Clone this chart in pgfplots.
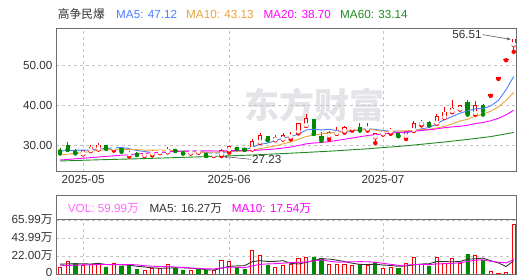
\documentclass[border=0pt]{standalone}
\usepackage{pgfplots}
\usepackage{pgfplotstable}
\pgfplotsset{compat=1.18}
\usetikzlibrary{arrows.meta}
\usepackage{fontspec}
\setmainfont{Liberation Sans}
\newfontfamily\cjk{Noto Sans CJK SC}
\definecolor{cup}{HTML}{FF0000}
\definecolor{cdn}{HTML}{008A00}
\definecolor{ma5}{HTML}{4A7DFF}
\definecolor{ma10}{HTML}{E8A33A}
\definecolor{ma20}{HTML}{FF00FF}
\definecolor{ma60}{HTML}{1E8C1E}
\definecolor{frame}{HTML}{6E6E6E}
\definecolor{gridc}{HTML}{C4C4C4}
\definecolor{txt}{HTML}{333333}
\definecolor{volc}{HTML}{FF66FF}
\definecolor{wm}{HTML}{E4E4E8}
% candles: index, open, high, low, close
\pgfplotstableread{
i o h l c
3 27.8 28.7 27.7 28.6
4 28.6 30.0 28.5 29.5
5 29.0 30.6 28.9 30.0
7 29.1 29.8 28.6 29.4
9 27.6 28.4 27.1 28.0
11 27.4 28.1 27.3 27.9
12 27.8 28.7 27.4 28.2
13 28.1 28.6 28.0 28.5
14 28.3 29.6 28.2 29.0
17 28.0 28.4 27.9 28.3
18 28.2 28.4 28.1 28.25
20 27.4 27.9 27.3 27.7
21 27.7 28.9 27.23 28.7
22 28.8 29.7 28.1 29.6
25 29.0 31.6 28.9 30.8
26 30.7 32.9 30.5 32.3
28 31.3 32.4 31.2 31.9
29 31.5 32.9 31.4 32.4
30 32.0 33.2 31.4 32.5
31 33.3 35.5 32.9 35.3
32 34.9 37.75 34.8 36.6
35 32.3 33.6 31.4 33.2
36 32.9 34.4 32.8 33.75
37 33.5 34.75 33.1 34.3
38 34.1 34.4 33.6 34.35
40 34.0 35.6 33.6 34.2
41 32.0 33.0 30.5 32.8
42 32.8 33.2 32.6 33.05
43 33.3 34.2 32.8 33.5
45 32.2 33.4 31.5 33.3
46 33.7 36.1 33.5 35.3
47 35.3 36.3 34.9 35.7
49 35.5 37.75 35.3 37.2
50 36.9 39.4 36.8 38.25
51 38.4 41.3 38.2 39.25
52 39.0 40.1 38.9 39.9
54 37.9 41.1 37.6 39.9
59 55.1 56.51 53.3 56.51
}\upt
\pgfplotstableread{
i o h l c
0 28.6 29.3 27.9 28.5
1 29.8 30.8 28.8 28.9
2 28.7 29.0 27.9 28.2
6 30.0 30.1 29.1 29.2
8 29.1 29.5 28.3 28.8
10 27.9 28.2 27.5 27.7
15 29.0 29.1 28.5 28.6
16 28.4 28.5 27.9 28.0
19 28.1 28.2 27.3 27.4
23 29.5 29.6 29.0 29.1
24 29.2 29.3 28.8 28.9
27 32.1 32.2 31.2 31.4
33 36.4 36.6 32.8 32.9
34 32.2 33.3 31.1 31.5
39 34.4 35.6 33.6 33.8
44 33.2 33.3 32.2 32.4
48 35.7 35.9 34.9 35.1
53 40.75 41.3 37.6 38.0
55 40.0 40.2 37.6 38.6
}\dnt
\pgfplotstableread{
i o h l c
56 42.46 42.46 42.46 42.46
57 46.70 46.70 46.70 46.70
58 51.37 51.37 51.37 51.37
}\flatt
\pgfplotsset{
  base/.style={scale only axis, width=460.5bp, xmin=-0.52, xmax=59.36,
    axis line style={frame, line width=1bp}, major tick length=0,
    grid style={gridc, dash pattern=on 3bp off 3bp, line width=0.8bp},
    xmajorgrids, ymajorgrids, xtick={3,22,42},
    tick label style={font=\fontsize{11.7bp}{14bp}\selectfont, text=txt}},
  ebar/.style={only marks, mark=none, forget plot,
    error bars/.cd, y dir=plus, y explicit, error mark=none,
    error bar style={line width=#1}},
}
\begin{document}
\begin{tikzpicture}[font=\fontsize{11.7bp}{14bp}\selectfont]
\path[use as bounding box] (0bp,0bp) rectangle (520bp,277bp);
% watermark
\node[text=wm, font=\cjk\bfseries\fontsize{35bp}{35bp}\selectfont, inner sep=0] at (314bp,172bp) {东方财富};
% top legend
\node[anchor=base west, inner sep=0, text=txt] at (57.7bp,258bp) {\cjk 高争民爆};
\node[anchor=base west, inner sep=0, text=ma5] at (116bp,258bp) {MA5: 47.12};
\node[anchor=base west, inner sep=0, text=ma10] at (186bp,258bp) {MA10: 43.13};
\node[anchor=base west, inner sep=0, text=ma20] at (263.3bp,258bp) {MA20: 38.70};
\node[anchor=base west, inner sep=0, text=ma60] at (340bp,258bp) {MA60: 33.14};

\begin{axis}[base, at={(56bp,105bp)}, anchor=south west, height=144bp,
  ymin=23.25, ymax=59.25, ytick={30,40,50}, yticklabels={30.00,40.00,50.00},
  xticklabels={2025-05,2025-06,2025-07}]
% wicks
\addplot[cup, ebar=0.9bp] table[x=i, y=l, y error expr=\thisrow{h}-\thisrow{l}] {\upt};
\addplot[cdn, ebar=0.9bp] table[x=i, y=l, y error expr=\thisrow{h}-\thisrow{l}] {\dnt};
% bodies
\addplot[cdn, ebar=4.2bp] table[x=i, y expr=\thisrow{c}-0.11, y error expr=\thisrow{o}-\thisrow{c}+0.22] {\dnt};
\addplot[cup, ebar=4.2bp] table[x=i, y expr=\thisrow{o}-0.11, y error expr=\thisrow{c}-\thisrow{o}+0.22] {\upt};
\addplot[white, ebar=2.4bp] table[x=i, y expr=\thisrow{o}+0.11, y error expr={max(\thisrow{c}-\thisrow{o}-0.22,0)}] {\upt};
\addplot[cup, ebar=5.6bp] table[x=i, y expr=\thisrow{o}-0.18, y error expr=\thisrow{c}-\thisrow{o}+0.36] {\flatt};
% MA5
\addplot[ma5, line width=0.9bp] coordinates {(0,28.5)(1,28.6)(2,28.7)(3,28.7)(4,28.74)(5,29.04)(6,29.10)(7,29.34)(8,29.38)(9,29.08)(10,28.62)(11,28.36)(12,28.12)(13,28.06)(14,28.26)(15,28.44)(16,28.46)(17,28.48)(18,28.43)(19,28.11)(20,27.93)(21,28.08)(22,28.34)(23,28.50)(24,28.80)(25,29.42)(26,30.14)(27,30.50)(28,31.06)(29,31.76)(30,32.10)(31,32.70)(32,33.74)(33,33.94)(34,33.76)(35,33.92)(36,33.61)(37,33.15)(38,33.44)(39,33.90)(40,34.10)(41,33.89)(42,33.62)(43,33.47)(44,33.19)(45,33.01)(46,33.51)(47,34.04)(48,34.36)(49,35.32)(50,36.31)(51,37.10)(52,37.94)(53,38.52)(54,39.06)(55,39.13)(56,39.77)(57,41.13)(58,43.81)(59,47.13)};
% MA10
\addplot[ma10, line width=0.9bp] coordinates {(0,27.5)(1,27.7)(2,27.9)(3,28.1)(4,28.4)(5,28.7)(6,28.8)(7,28.9)(8,28.9)(9,28.91)(10,28.83)(11,28.73)(12,28.73)(13,28.72)(14,28.67)(15,28.53)(16,28.41)(17,28.30)(18,28.25)(19,28.19)(20,28.19)(21,28.27)(22,28.41)(23,28.47)(24,28.46)(25,28.68)(26,29.11)(27,29.42)(28,29.78)(29,30.28)(30,30.76)(31,31.42)(32,32.12)(33,32.50)(34,32.76)(35,33.00)(36,33.15)(37,33.44)(38,33.68)(39,33.81)(40,33.98)(41,33.73)(42,33.38)(43,33.44)(44,33.53)(45,33.54)(46,33.69)(47,33.83)(48,33.92)(49,34.26)(50,34.66)(51,35.31)(52,35.99)(53,36.44)(54,37.19)(55,37.72)(56,38.44)(57,39.54)(58,41.16)(59,43.13)};
% MA20
\addplot[ma20, line width=0.9bp] coordinates {(0,26.25)(1,26.4)(2,26.55)(3,26.7)(4,26.85)(5,27.0)(6,27.15)(7,27.3)(8,27.45)(9,27.6)(10,27.75)(11,27.9)(12,28.05)(13,28.2)(14,28.3)(15,28.4)(16,28.45)(17,28.5)(18,28.52)(19,28.55)(20,28.51)(21,28.50)(22,28.57)(23,28.60)(24,28.57)(25,28.61)(26,28.76)(27,28.86)(28,29.02)(29,29.24)(30,29.48)(31,29.86)(32,30.28)(33,30.50)(34,30.62)(35,30.85)(36,31.14)(37,31.44)(38,31.74)(39,32.06)(40,32.38)(41,32.59)(42,32.76)(43,32.98)(44,33.15)(45,33.28)(46,33.43)(47,33.64)(48,33.80)(49,34.04)(50,34.33)(51,34.52)(52,34.68)(53,34.94)(54,35.36)(55,35.63)(56,36.06)(57,36.68)(58,37.54)(59,38.70)};
% MA60
\addplot[ma60, line width=0.9bp] coordinates {(0,26.0)(5,26.3)(10,26.55)(15,26.85)(20,27.15)(25,27.5)(30,27.95)(35,28.45)(40,29.05)(45,29.8)(50,30.75)(53,31.4)(56,32.1)(59,33.14)};
% annotations
\draw[-{Stealth[length=4bp,width=3bp]}, black!65, line width=0.6bp] (axis cs:54.95,57.6) -- (axis cs:58.6,56.4);
\node[anchor=east, inner sep=0, text=txt] at (axis cs:54.85,57.55) {56.51};
\draw[-{Stealth[length=4bp,width=3bp]}, black!65, line width=0.6bp] (axis cs:24.85,26.43) -- (axis cs:21.3,27.1);
\node[anchor=west, inner sep=0, text=txt] at (axis cs:24.95,26.5) {27.23};
\end{axis}

% volume legend box
\draw[frame, line width=1bp] (56bp,57bp) rectangle (516.5bp,81bp);
\node[anchor=base west, inner sep=0, text=volc] at (67.7bp,64bp) {VOL: 59.99{\cjk 万}};
\node[anchor=base west, inner sep=0, text=txt] at (149.3bp,64bp) {MA5: 16.27{\cjk 万}};
\node[anchor=base west, inner sep=0, text=ma20] at (231.7bp,64bp) {MA10: 17.54{\cjk 万}};

\begin{axis}[base, at={(56bp,3bp)}, anchor=south west, height=54bp,
  ymin=0, ymax=65.99, ytick={0,22,43.99,65.99},
  yticklabels={\raisebox{2.5bp}{0},22.00{\cjk 万},43.99{\cjk 万},65.99{\cjk 万}},
  xticklabels={}]
\addplot[ybar, bar width=0.42, bar shift=0pt, draw=cup, fill=white, line width=0.9bp] coordinates {
(0,8.6)(1,15.9)(3,11.0)(4,12.2)(5,12.6)(7,13.0)(11,4.5)(12,7.3)(13,7.3)(14,11.8)(17,4.5)(20,4.5)(21,16.7)(22,15.9)(25,29.0)(26,22.8)(28,8.2)(29,10.6)(30,12.2)(31,19.2)(32,20.4)(35,11.8)(36,11.8)(37,11.8)(38,11.0)(40,11.0)(42,6.9)(43,8.2)(45,13.0)(46,20.4)(47,12.2)(49,20.4)(50,13.0)(51,19.2)(52,13.5)(54,23.0)(56,3.0)(57,0.6)(58,2.0)(59,59.99)};
\addplot[ybar, bar width=0.42, bar shift=0pt, draw=cdn, fill=cdn, line width=0.9bp] coordinates {
(2,13.4)(6,8.6)(8,9.8)(9,10.6)(10,5.3)(15,6.9)(16,4.9)(18,5.3)(19,4.5)(23,7.7)(24,6.1)(27,11.0)(33,20.8)(34,19.6)(39,12.2)(41,13.8)(44,7.3)(48,9.8)(53,24.4)(55,17.0)};
% VOL MA5
\addplot[txt, line width=0.9bp] coordinates {(0,12.0)(1,12.3)(2,12.5)(3,12.4)(4,12.22)(5,13.02)(6,11.56)(7,11.48)(8,11.24)(9,10.92)(10,9.46)(11,8.64)(12,7.50)(13,7.00)(14,7.24)(15,7.56)(16,7.64)(17,7.08)(18,6.68)(19,5.22)(20,4.74)(21,7.10)(22,9.38)(23,9.86)(24,10.18)(25,15.08)(26,16.30)(27,15.32)(28,15.42)(29,16.32)(30,12.96)(31,12.24)(32,14.12)(33,16.64)(34,18.44)(35,18.36)(36,16.88)(37,15.16)(38,13.20)(39,11.72)(40,11.56)(41,11.96)(42,10.98)(43,10.42)(44,9.44)(45,9.84)(46,11.16)(47,12.22)(48,12.54)(49,15.16)(50,15.16)(51,14.92)(52,15.18)(53,18.10)(54,18.62)(55,19.42)(56,16.18)(57,13.60)(58,9.12)(59,16.27)};
% VOL MA10
\addplot[ma20, line width=0.9bp] coordinates {(0,10.0)(1,10.4)(2,10.8)(3,11.1)(4,11.3)(5,11.5)(6,11.6)(7,11.6)(8,11.6)(9,11.57)(10,11.24)(11,10.10)(12,9.49)(13,9.12)(14,9.08)(15,8.51)(16,8.14)(17,7.29)(18,6.84)(19,6.23)(20,6.15)(21,7.37)(22,8.23)(23,8.27)(24,7.70)(25,9.91)(26,11.70)(27,12.35)(28,12.64)(29,13.25)(30,14.02)(31,14.27)(32,14.72)(33,16.03)(34,17.38)(35,15.66)(36,14.56)(37,14.64)(38,14.92)(39,15.08)(40,14.96)(41,14.42)(42,13.07)(43,11.81)(44,10.58)(45,10.70)(46,11.56)(47,11.60)(48,11.48)(49,12.30)(50,12.50)(51,13.04)(52,13.70)(53,15.32)(54,16.89)(55,17.29)(56,15.55)(57,14.39)(58,13.61)(59,17.54)};
\end{axis}
\end{tikzpicture}
\end{document}
